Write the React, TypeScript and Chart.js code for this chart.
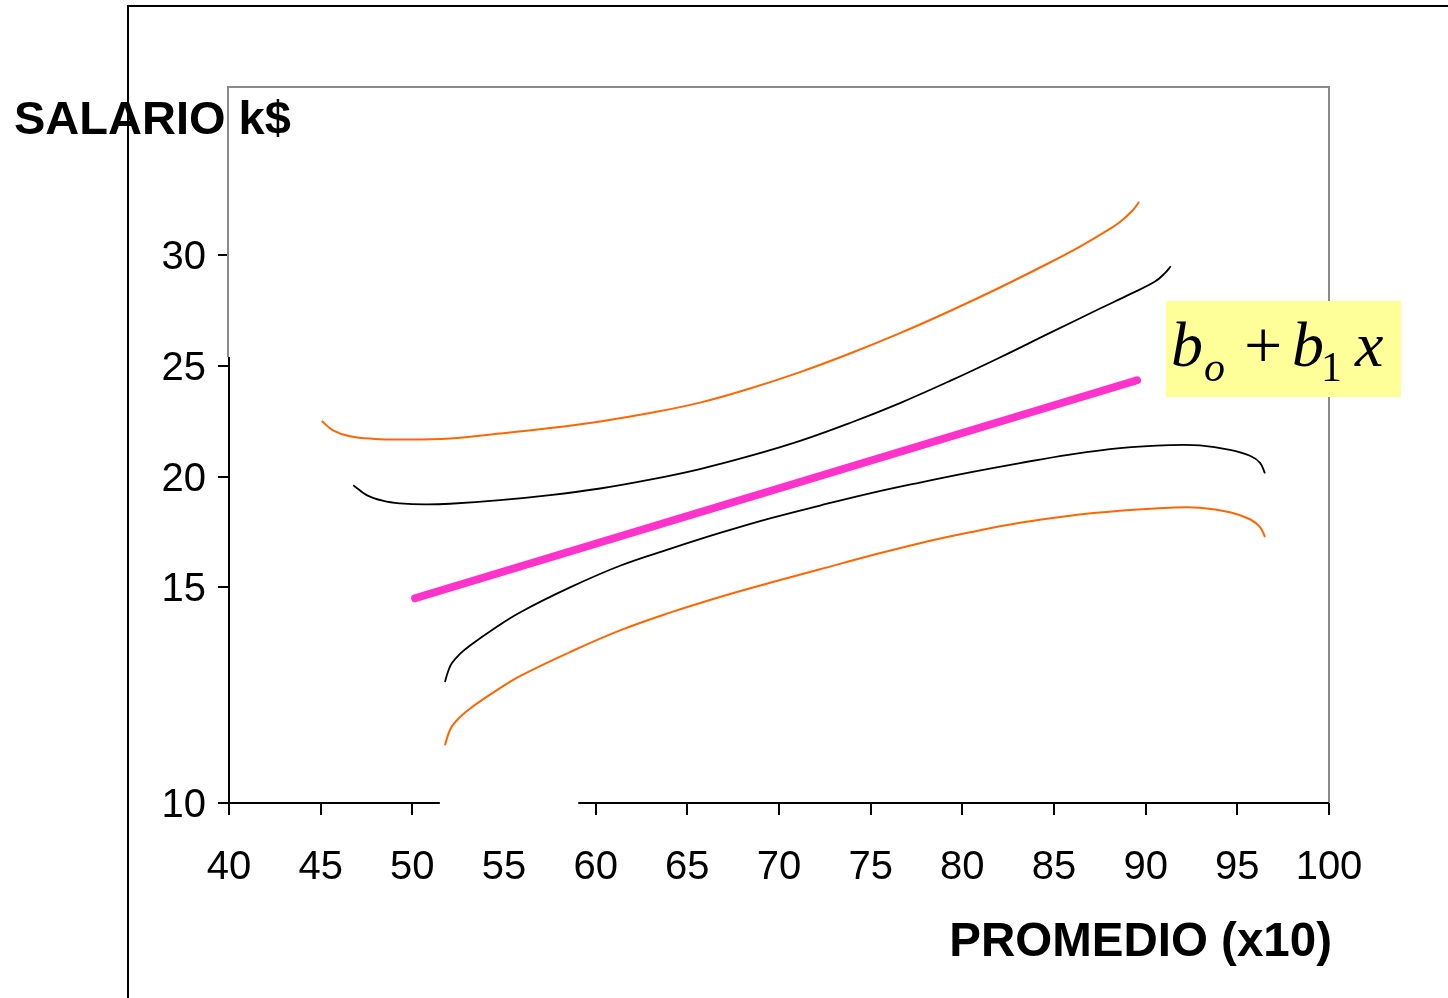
import React, { useEffect, useRef } from "react";
import { Chart, registerables } from "chart.js";
Chart.register(...registerables);

// ---- axes ----
const X_MIN = 40;
const X_MAX = 100;
const X_STEP = 5;
const Y_MIN = 5.25;
const Y_MAX = 37.6;
const yTickValues = [Y_MIN, 15, 20, 25, 30];
const yTickLabels = ["10", "15", "20", "25", "30"];
const xAxisGap = [51.5, 59.05]; // missing piece of the x axis line
const yAxisBlackFrom = 25.4; // left axis is black below this value

const xTitle = "PROMEDIO (x10)";
const yTitle = "SALARIO k$";

// ---- series ----
const upperOrangeX = [45.06, 45.67, 46.6, 47.96, 49.33, 52.05, 54.78, 57.51, 60.24, 62.96, 65.69, 68.42, 71.15, 73.87, 76.6, 79.33, 82.05, 84.78, 86.42, 87.78, 88.6, 89.31, 89.64];
const upperOrangeY = [22.51, 22.09, 21.82, 21.7, 21.67, 21.72, 21.94, 22.19, 22.49, 22.87, 23.34, 23.98, 24.72, 25.56, 26.48, 27.48, 28.54, 29.67, 30.39, 31.05, 31.5, 32.04, 32.41];

const upperBlackX = [46.78, 47.51, 48.42, 49.33, 50.69, 52.05, 54.78, 57.51, 60.24, 62.96, 65.69, 68.42, 71.15, 73.87, 76.6, 79.33, 82.05, 84.78, 87.51, 89.15, 90.51, 91.05, 91.37];
const upperBlackY = [19.61, 19.16, 18.9, 18.79, 18.74, 18.77, 18.93, 19.16, 19.46, 19.86, 20.34, 20.93, 21.61, 22.42, 23.32, 24.32, 25.38, 26.49, 27.59, 28.24, 28.81, 29.19, 29.5];

const lowerBlackX = [51.78, 51.95, 52.16, 52.6, 53.15, 54.51, 55.87, 58.6, 61.33, 64.05, 66.78, 69.51, 72.24, 74.96, 77.69, 80.42, 83.15, 85.87, 88.6, 91.33, 92.96, 94.6, 95.69, 96.24, 96.51];
const lowerBlackY = [10.72, 11.19, 11.57, 11.99, 12.37, 13.16, 13.86, 14.99, 15.97, 16.73, 17.45, 18.11, 18.69, 19.24, 19.73, 20.19, 20.61, 20.99, 21.28, 21.42, 21.41, 21.21, 20.94, 20.62, 20.14];

const lowerOrangeX = [51.78, 51.95, 52.16, 52.6, 53.15, 54.51, 55.87, 58.6, 61.33, 64.05, 66.78, 69.51, 72.24, 74.96, 77.69, 80.42, 83.15, 85.87, 88.6, 91.33, 92.96, 94.6, 95.69, 96.24, 96.51];
const lowerOrangeY = [7.86, 8.33, 8.71, 9.13, 9.52, 10.29, 10.98, 12.07, 13.05, 13.85, 14.56, 15.2, 15.81, 16.42, 16.99, 17.48, 17.91, 18.23, 18.45, 18.59, 18.59, 18.39, 18.07, 17.71, 17.27];

const fitX = [50.15, 89.53];
const fitY = [14.5, 24.35];

const pts = (xs: number[], ys: number[]) => xs.map((x, i) => ({ x, y: ys[i] }));

const SANS = "'Liberation Sans', Arial, sans-serif";
const SERIF = "'Liberation Serif', 'Times New Roman', serif";

const framePlugin = {
  id: "frame",
  beforeDatasetsDraw(chart: any) {
    const { ctx, chartArea } = chart;
    const xs = chart.scales.x;
    const ys = chart.scales.y;
    const { left, right, top, bottom } = chartArea;
    ctx.save();
    // outer frame
    ctx.strokeStyle = "#000";
    ctx.lineWidth = 2;
    ctx.beginPath();
    ctx.moveTo(128, chart.height);
    ctx.lineTo(128, 6);
    ctx.lineTo(chart.width, 6);
    ctx.stroke();
    // gray plot border
    const yBreak = ys.getPixelForValue(yAxisBlackFrom);
    ctx.strokeStyle = "#8a8a8a";
    ctx.lineWidth = 2;
    ctx.beginPath();
    ctx.moveTo(left - 1, yBreak);
    ctx.lineTo(left - 1, top);
    ctx.lineTo(right, top);
    ctx.lineTo(right, bottom);
    ctx.stroke();
    // black axes
    ctx.strokeStyle = "#000";
    ctx.lineWidth = 2;
    ctx.beginPath();
    ctx.moveTo(left, yBreak);
    ctx.lineTo(left, bottom);
    ctx.moveTo(left, bottom);
    ctx.lineTo(xs.getPixelForValue(xAxisGap[0]), bottom);
    ctx.moveTo(xs.getPixelForValue(xAxisGap[1]), bottom);
    ctx.lineTo(right, bottom);
    ctx.stroke();
    ctx.restore();
  },
  afterDraw(chart: any) {
    const { ctx } = chart;
    ctx.save();
    ctx.fillStyle = "#000";
    ctx.textBaseline = "alphabetic";
    ctx.font = `bold 47px ${SANS}`;
    ctx.textAlign = "left";
    ctx.fillText(yTitle, 14, 134);
    ctx.font = `bold 47.5px ${SANS}`;
    ctx.textAlign = "right";
    ctx.fillText(xTitle, 1332, 956);

    // formula box
    ctx.fillStyle = "#FFFF99";
    ctx.fillRect(1166, 301, 235, 96);
    ctx.fillStyle = "#000";
    ctx.textAlign = "left";
    ctx.font = `italic 64px ${SERIF}`;
    ctx.fillText("b", 1171, 366);
    ctx.font = `italic 42px ${SERIF}`;
    ctx.fillText("o", 1204, 381);
    ctx.font = `68px ${SERIF}`;
    ctx.fillText("+", 1244, 368);
    ctx.font = `italic 64px ${SERIF}`;
    ctx.fillText("b", 1292, 366);
    ctx.font = `42px ${SERIF}`;
    ctx.fillText("1", 1321, 381);
    ctx.font = `italic 64px ${SERIF}`;
    ctx.fillText("x", 1355, 366);
    ctx.restore();
  },
};

export default function App() {
  const ref = useRef<HTMLCanvasElement | null>(null);
  useEffect(() => {
    if (!ref.current) return;
    const lineDs = (data: any, color: string, width: number) => ({
      data,
      borderColor: color,
      borderWidth: width,
      pointRadius: 0,
      fill: false,
      tension: 0.4,
    });
    const chart = new Chart(ref.current, {
      type: "line",
      data: {
        datasets: [
          lineDs(pts(upperOrangeX, upperOrangeY), "#FF6600", 2),
          lineDs(pts(upperBlackX, upperBlackY), "#000000", 1.8),
          lineDs(pts(lowerBlackX, lowerBlackY), "#000000", 1.8),
          lineDs(pts(lowerOrangeX, lowerOrangeY), "#FF6600", 2),
          {
            data: pts(fitX, fitY),
            borderColor: "#FF33CC",
            borderWidth: 8,
            borderCapStyle: "round",
            pointRadius: 0,
            fill: false,
          },
        ],
      },
      options: {
        responsive: false,
        animation: false,
        events: [],
        layout: { padding: { left: 0, top: 87, right: 119, bottom: 0 } },
        plugins: { legend: { display: false }, tooltip: { enabled: false } },
        scales: {
          x: {
            type: "linear",
            min: X_MIN,
            max: X_MAX,
            border: { display: false },
            grid: {
              drawOnChartArea: false,
              drawTicks: true,
              tickLength: 12,
              lineWidth: 2,
              color: (c: any) =>
                c.tick && c.tick.value > xAxisGap[0] && c.tick.value < xAxisGap[1]
                  ? "rgba(0,0,0,0)"
                  : "#000",
            },
            ticks: {
              stepSize: X_STEP,
              autoSkip: false,
              maxRotation: 0,
              color: "#000",
              padding: 29,
              font: { family: SANS, size: 40 },
            },
            afterFit: (s: any) => {
              s.height = 195;
            },
          },
          y: {
            type: "linear",
            min: Y_MIN,
            max: Y_MAX,
            border: { display: false },
            grid: {
              drawOnChartArea: false,
              drawTicks: true,
              tickLength: 11,
              lineWidth: 2,
              color: "#000",
            },
            afterBuildTicks: (s: any) => {
              s.ticks = yTickValues.map((v) => ({ value: v }));
            },
            ticks: {
              color: "#000",
              padding: 12,
              labelOffset: 3,
              font: { family: SANS, size: 40 },
              callback: (_v: any, i: number) => yTickLabels[i],
            },
            afterFit: (s: any) => {
              s.width = 229;
            },
          },
        },
      },
      plugins: [framePlugin],
    });
    return () => chart.destroy();
  }, []);
  return (
    <div style={{ position: "absolute", left: 0, top: 0, width: 1448, height: 998, background: "#fff" }}>
      <canvas ref={ref} width={1448} height={998} style={{ display: "block" }} />
    </div>
  );
}
